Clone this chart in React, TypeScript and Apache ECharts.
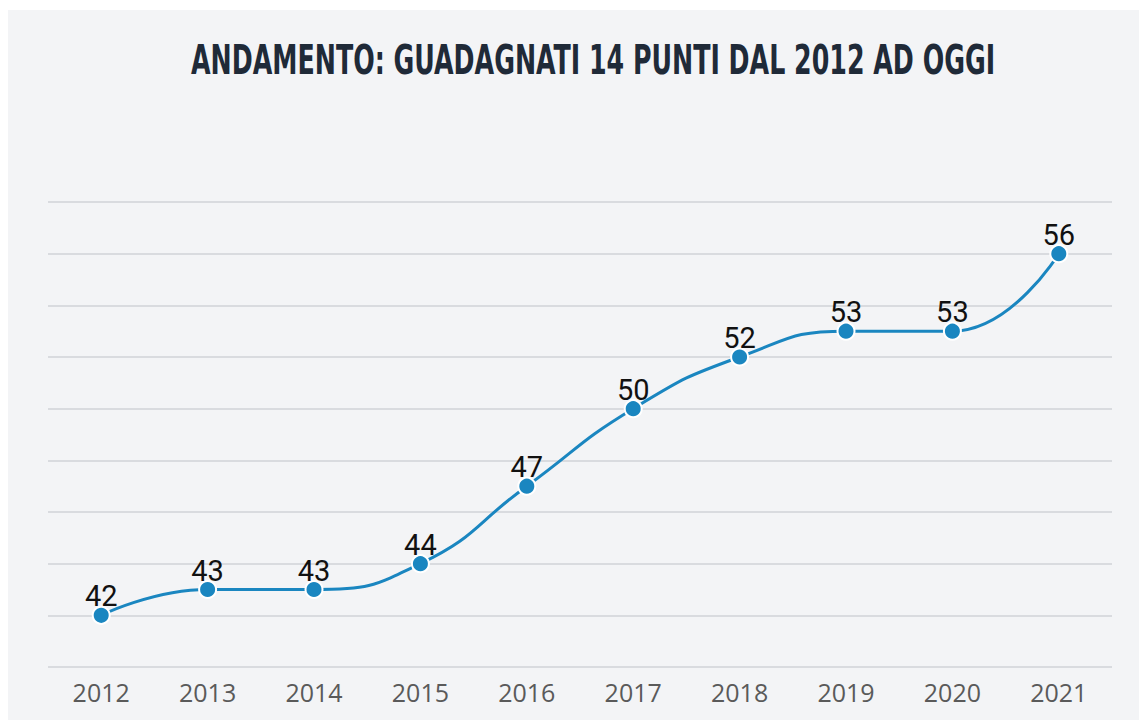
import React, { useEffect, useRef } from "react";
import * as echarts from "echarts";

const titleText = "ANDAMENTO: GUADAGNATI 14 PUNTI DAL 2012 AD OGGI";
const years = ["2012", "2013", "2014", "2015", "2016", "2017", "2018", "2019", "2020", "2021"];
const values = [42, 43, 43, 44, 47, 50, 52, 53, 53, 56];

export default function App() {
  const ref = useRef<HTMLDivElement>(null);
  useEffect(() => {
    const chart = echarts.init(ref.current!, null, { renderer: "svg" });
    chart.setOption({
      animation: false,
      backgroundColor: "#f3f4f6",
      graphic: [
        {
          type: "text",
          x: 183,
          y: 30,
          scaleX: 0.703,
          style: {
            text: titleText,
            font: "bold 40px 'DejaVu Sans Condensed'",
            fill: "#1f2a38",
          },
        },
      ],
      grid: { left: 40, right: 35, top: 192, bottom: 53 },
      xAxis: {
        type: "category",
        data: years,
        boundaryGap: true,
        axisLine: { show: false },
        axisTick: { show: false },
        axisLabel: { color: "#5a5a5a", fontSize: 25, fontFamily: "Open Sans", margin: 12 },
      },
      yAxis: {
        type: "value",
        min: 40,
        max: 58,
        interval: 2,
        axisLabel: { show: false },
        axisLine: { show: false },
        axisTick: { show: false },
        splitLine: { lineStyle: { color: "#d9dbdf", width: 2 } },
      },
      series: [
        {
          type: "line",
          data: values,
          smooth: true,
          symbol: "circle",
          symbolSize: 17,
          lineStyle: { color: "#1a86c0", width: 3 },
          itemStyle: { color: "#1a86c0", borderColor: "#fff", borderWidth: 2 },
          label: {
            show: true,
            position: "top",
            distance: -5,
            color: "#111",
            fontSize: 29,
            fontFamily: "Roboto",
          },
        },
      ],
    });
    return () => chart.dispose();
  }, []);
  return <div ref={ref} style={{ width: 1139, height: 710, marginTop: 2 }} />;
}
